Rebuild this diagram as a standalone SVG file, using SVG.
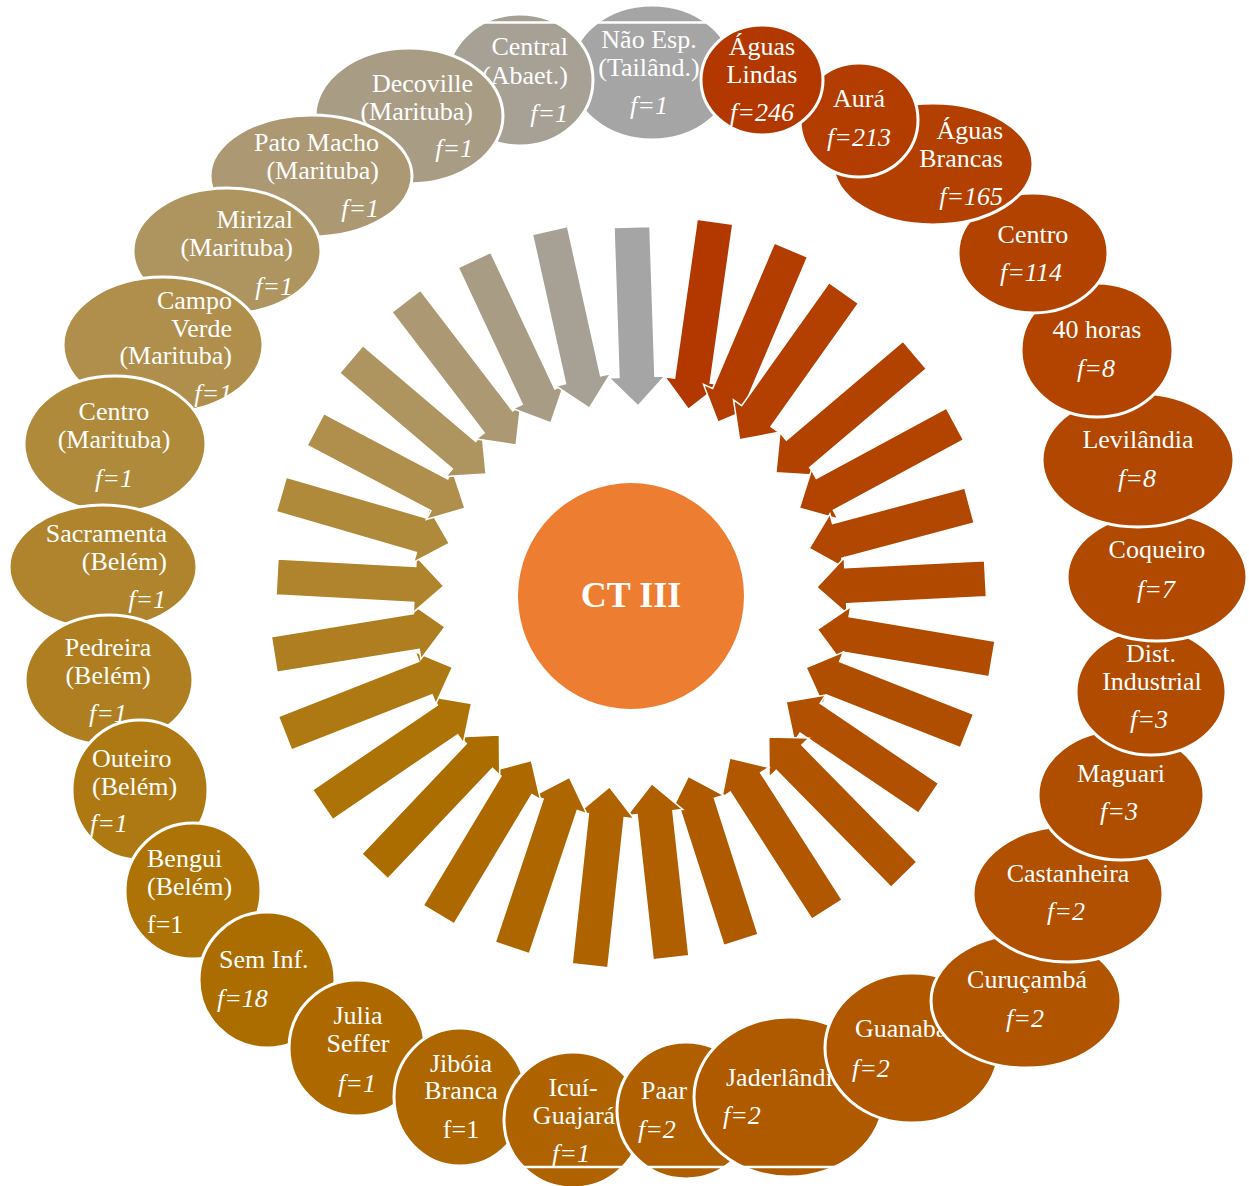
<svg xmlns="http://www.w3.org/2000/svg" width="1249" height="1186" viewBox="0 0 1249 1186">
<style>
.n ellipse{stroke:#fff;stroke-width:3}
text{font-family:"Liberation Serif","Times New Roman",serif;font-size:26px;fill:#fff}
.i{font-style:italic}
.m{text-anchor:middle}
.e{text-anchor:end}
.s{text-anchor:start}
#connectors path{stroke:#fff;stroke-width:1.5}
.ct{font-size:36px;font-weight:bold}
</style>
<rect width="1249" height="1186" fill="#fff"/>
<g id="connectors">
<path fill="#A5A5A5" transform="translate(632,227) rotate(88.1)" d="M0,-18H150V-28L179,0L150,28V18H0Z"/>
<path fill="#B33800" transform="translate(715,221.7) rotate(98.1)" d="M0,-18H160.5V-28L189.5,0L160.5,28V18H0Z"/>
<path fill="#B33C00" transform="translate(791,250) rotate(113)" d="M0,-18H158V-28L187,0L158,28V18H0Z"/>
<path fill="#B33F00" transform="translate(843.8,293) rotate(125.4)" d="M0,-18H151V-28L180,0L151,28V18H0Z"/>
<path fill="#B24200" transform="translate(914.7,355) rotate(139.7)" d="M0,-18H153V-28L182,0L153,28V18H0Z"/>
<path fill="#B24400" transform="translate(955,424) rotate(151.6)" d="M0,-18H148V-28L177,0L148,28V18H0Z"/>
<path fill="#B14700" transform="translate(969.5,505.5) rotate(165)" d="M0,-18H137V-28L166,0L137,28V18H0Z"/>
<path fill="#B14900" transform="translate(985.5,578.7) rotate(177.1)" d="M0,-18H140V-28L169,0L140,28V18H0Z"/>
<path fill="#B14B00" transform="translate(992,659) rotate(189.6)" d="M0,-18H148V-28L177,0L148,28V18H0Z"/>
<path fill="#B04E00" transform="translate(967,731) rotate(201.5)" d="M0,-18H144V-28L173,0L144,28V18H0Z"/>
<path fill="#B05000" transform="translate(928.5,798.3) rotate(214.1)" d="M0,-18H143V-28L172,0L143,28V18H0Z"/>
<path fill="#B05400" transform="translate(904,874.7) rotate(225.5)" d="M0,-18H164V-28L193,0L164,28V18H0Z"/>
<path fill="#B05700" transform="translate(827,909.5) rotate(237.3)" d="M0,-18H151V-28L180,0L151,28V18H0Z"/>
<path fill="#B05A00" transform="translate(741,940) rotate(252.2)" d="M0,-18H143V-28L172,0L143,28V18H0Z"/>
<path fill="#AF5E00" transform="translate(671,957.7) rotate(263.7)" d="M0,-18H146V-28L175,0L146,28V18H0Z"/>
<path fill="#AF6200" transform="translate(590,965.8) rotate(276.2)" d="M0,-18H151V-28L180,0L151,28V18H0Z"/>
<path fill="#AE6600" transform="translate(512.3,948) rotate(288.5)" d="M0,-18H151V-28L180,0L151,28V18H0Z"/>
<path fill="#AD6900" transform="translate(438.7,914.7) rotate(301)" d="M0,-18H151V-28L180,0L151,28V18H0Z"/>
<path fill="#AC6D00" transform="translate(374.8,866.3) rotate(313.5)" d="M0,-18H152V-28L181,0L152,28V18H0Z"/>
<path fill="#AD7306" transform="translate(322.7,804.7) rotate(325.8)" d="M0,-18H151V-28L180,0L151,28V18H0Z"/>
<path fill="#AE7912" transform="translate(285,733.3) rotate(338.5)" d="M0,-18H151V-28L180,0L151,28V18H0Z"/>
<path fill="#AF7E20" transform="translate(274.2,654.5) rotate(350.8)" d="M0,-18H144V-28L173,0L144,28V18H0Z"/>
<path fill="#B0842C" transform="translate(277,577) rotate(3.1)" d="M0,-18H138V-28L167,0L138,28V18H0Z"/>
<path fill="#AF8A3A" transform="translate(281.3,494.5) rotate(16.2)" d="M0,-18H146V-28L175,0L146,28V18H0Z"/>
<path fill="#B08F4C" transform="translate(315.5,429.5) rotate(27.8)" d="M0,-18H140V-28L169,0L140,28V18H0Z"/>
<path fill="#AE955F" transform="translate(351.3,359.3) rotate(40.4)" d="M0,-18H148V-28L177,0L148,28V18H0Z"/>
<path fill="#AC9872" transform="translate(406.2,301.2) rotate(52.6)" d="M0,-18H152V-28L181,0L152,28V18H0Z"/>
<path fill="#A99C84" transform="translate(474.5,260) rotate(64.9)" d="M0,-18H151V-28L180,0L151,28V18H0Z"/>
<path fill="#A6A095" transform="translate(550,230.5) rotate(77.5)" d="M0,-18H153V-28L182,0L153,28V18H0Z"/>
</g>
<g id="center">
<circle cx="631" cy="596" r="113" fill="#ED7D31"/>
<text class="m ct" x="631" y="607">CT III</text>
</g>
<g id="n0" class="n"><ellipse cx="652" cy="72.5" rx="82" ry="67.5" fill="#A5A5A5"/>
<text class="m" x="649" y="48">Não Esp.</text><text class="m" x="649" y="76">(Tailând.)</text><text class="m i" x="649" y="114">f=1</text></g>
<g id="n28" class="n"><ellipse cx="520" cy="80" rx="73" ry="66" fill="#A6A095"/>
<text class="e" x="568" y="55">Central</text><text class="e" x="568" y="84">(Abaet.)</text><text class="e i" x="568" y="122">f=1</text></g>
<g id="n27" class="n"><ellipse cx="409" cy="116" rx="94" ry="68" fill="#A99C84"/>
<text class="e" x="473" y="92">Decoville</text><text class="e" x="473" y="120">(Marituba)</text><text class="e i" x="473" y="157">f=1</text></g>
<g id="n26" class="n"><ellipse cx="311" cy="176" rx="101" ry="61" fill="#AC9872"/>
<text class="e" x="379" y="151">Pato Macho</text><text class="e" x="379" y="179">(Marituba)</text><text class="e i" x="379" y="217">f=1</text></g>
<g id="n25" class="n"><ellipse cx="227" cy="251" rx="94" ry="63" fill="#AE955F"/>
<text class="e" x="293" y="228">Mirizal</text><text class="e" x="293" y="256">(Marituba)</text><text class="e i" x="293" y="295">f=1</text></g>
<g id="n24" class="n"><ellipse cx="163" cy="345" rx="100" ry="68" fill="#B08F4C"/>
<text class="e" x="232" y="309">Campo</text><text class="e" x="232" y="337">Verde</text><text class="e" x="232" y="364">(Marituba)</text><text class="e i" x="232" y="402">f=1</text></g>
<g id="n23" class="n"><ellipse cx="115" cy="444" rx="91" ry="68" fill="#AF8A3A"/>
<text class="m" x="114" y="420">Centro</text><text class="m" x="114" y="448">(Marituba)</text><text class="m i" x="114" y="487">f=1</text></g>
<g id="n22" class="n"><ellipse cx="103" cy="567" rx="94" ry="62" fill="#B0842C"/>
<text class="e" x="167" y="542">Sacramenta</text><text class="e" x="167" y="570">(Belém)</text><text class="e i" x="166" y="608">f=1</text></g>
<g id="n21" class="n"><ellipse cx="109" cy="680" rx="84" ry="65" fill="#AF7E20"/>
<text class="m" x="108" y="656">Pedreira</text><text class="m" x="108" y="684">(Belém)</text><text class="m i" x="108" y="722">f=1</text></g>
<g id="n20" class="n"><ellipse cx="140" cy="790" rx="68" ry="70" fill="#AE7912"/>
<text class="s" x="92" y="767">Outeiro</text><text class="s" x="92" y="795">(Belém)</text><text class="s i" x="90" y="832">f=1</text></g>
<g id="n19" class="n"><ellipse cx="193" cy="891" rx="68" ry="68" fill="#AD7306"/>
<text class="s" x="147" y="867">Bengui</text><text class="s" x="147" y="895">(Belém)</text><text class="s" x="147" y="933">f=1</text></g>
<g id="n18" class="n"><ellipse cx="267" cy="980" rx="68" ry="68" fill="#AC6D00"/>
<text class="s" x="219" y="968">Sem Inf.</text><text class="s i" x="217" y="1007">f=18</text></g>
<g id="n17" class="n"><ellipse cx="357" cy="1048" rx="68" ry="68" fill="#AD6900"/>
<text class="m" x="358" y="1024">Julia</text><text class="m" x="358" y="1052">Seffer</text><text class="m i" x="357" y="1092">f=1</text></g>
<g id="n16" class="n"><ellipse cx="460" cy="1097" rx="66" ry="69" fill="#AE6600"/>
<text class="m" x="461" y="1072">Jibóia</text><text class="m" x="461" y="1099">Branca</text><text class="m" x="461" y="1138">f=1</text></g>
<g id="n15" class="n"><ellipse cx="573" cy="1120" rx="69" ry="68" fill="#AF6200"/>
<text class="m" x="573" y="1096">Icuí-</text><text class="m" x="574" y="1124">Guajará</text><text class="m i" x="571" y="1162">f=1</text></g>
<g id="n14" class="n"><ellipse cx="686" cy="1110.5" rx="69" ry="68.5" fill="#AF5E00"/>
<text class="s" x="641" y="1099">Paar</text><text class="s i" x="638" y="1138">f=2</text></g>
<g id="n13" class="n"><ellipse cx="789" cy="1097" rx="95" ry="80" fill="#B05A00"/>
<text class="s" x="726" y="1086">Jaderlândia</text><text class="s i" x="723" y="1124">f=2</text></g>
<g id="n12" class="n"><ellipse cx="912" cy="1048" rx="87" ry="75" fill="#B05700"/>
<text class="s" x="855" y="1037">Guanabara</text><text class="s i" x="852" y="1077">f=2</text></g>
<g id="n11" class="n"><ellipse cx="1026" cy="1001" rx="95" ry="67" fill="#B05400"/>
<text class="m" x="1027" y="988">Curuçambá</text><text class="m i" x="1025" y="1027">f=2</text></g>
<g id="n10" class="n"><ellipse cx="1068" cy="894" rx="95" ry="68" fill="#B05000"/>
<text class="m" x="1068" y="882">Castanheira</text><text class="m i" x="1066" y="920">f=2</text></g>
<g id="n9" class="n"><ellipse cx="1121" cy="795" rx="83" ry="65" fill="#B04E00"/>
<text class="m" x="1121" y="782">Maguari</text><text class="m i" x="1119" y="820">f=3</text></g>
<g id="n8" class="n"><ellipse cx="1151" cy="692" rx="75" ry="63" fill="#B14B00"/>
<text class="m" x="1151" y="662">Dist.</text><text class="m" x="1152" y="690">Industrial</text><text class="m i" x="1149" y="728">f=3</text></g>
<g id="n7" class="n"><ellipse cx="1157" cy="577" rx="90" ry="64" fill="#B14900"/>
<text class="m" x="1157" y="558">Coqueiro</text><text class="m i" x="1156" y="598">f=7</text></g>
<g id="n6" class="n"><ellipse cx="1138" cy="460" rx="96" ry="67" fill="#B14700"/>
<text class="m" x="1138" y="448">Levilândia</text><text class="m i" x="1137" y="487">f=8</text></g>
<g id="n5" class="n"><ellipse cx="1097" cy="350" rx="76" ry="67" fill="#B24400"/>
<text class="m" x="1097" y="338">40 horas</text><text class="m i" x="1096" y="377">f=8</text></g>
<g id="n4" class="n"><ellipse cx="1033" cy="253" rx="75" ry="60" fill="#B24200"/>
<text class="m" x="1033" y="243">Centro</text><text class="m i" x="1031" y="281">f=114</text></g>
<g id="n3" class="n"><ellipse cx="933" cy="164" rx="100" ry="61" fill="#B33F00"/>
<text class="e" x="1003" y="139">Águas</text><text class="e" x="1003" y="167">Brancas</text><text class="e i" x="1003" y="205">f=165</text></g>
<g id="n2" class="n"><ellipse cx="859" cy="120" rx="59" ry="57" fill="#B33C00"/>
<text class="m" x="859" y="107">Aurá</text><text class="m i" x="859" y="146">f=213</text></g>
<g id="n1" class="n"><ellipse cx="762" cy="80" rx="61" ry="55" fill="#B33800"/>
<text class="m" x="762" y="55">Águas</text><text class="m" x="762" y="83">Lindas</text><text class="m i" x="762" y="121">f=246</text></g>
<g id="artifacts" stroke="#fff" stroke-width="2.5">
<line x1="470" y1="22.5" x2="725" y2="22.5"/>
<line x1="520" y1="1167" x2="850" y2="1167"/>
</g>
</svg>
